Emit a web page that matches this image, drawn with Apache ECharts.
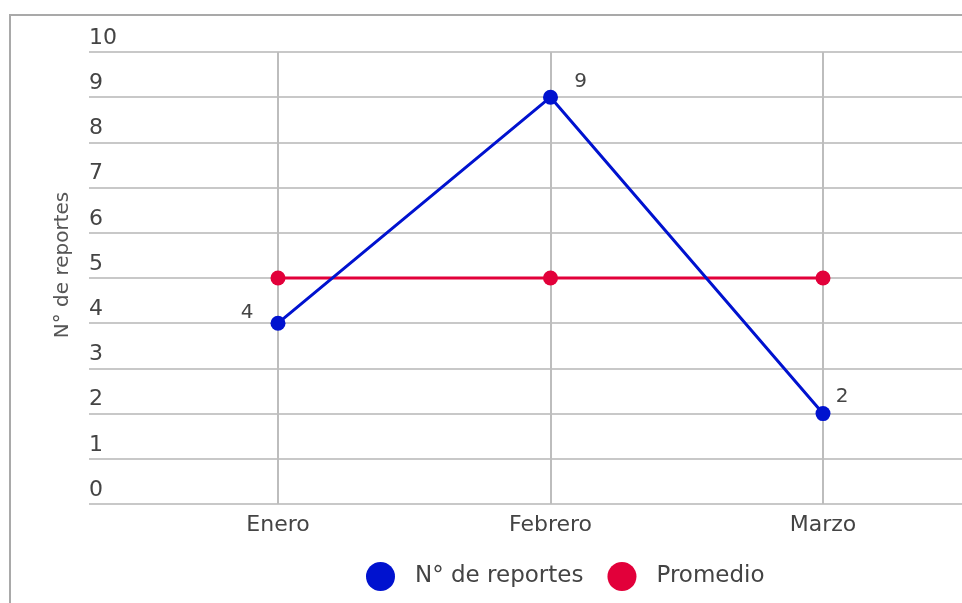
<!DOCTYPE html>
<html>
<head>
<meta charset="utf-8">
<script src="https://cdn.jsdelivr.net/npm/echarts@6/dist/echarts.min.js"></script>
<style>html,body{margin:0;padding:0;background:#fff}#c{width:962px;height:603px}</style>
</head>
<body>
<div id="c"></div>
<script>
var categories = ['Enero', 'Febrero', 'Marzo'];
var reportes = [4, 9, 2];
var promedio = [5, 5, 5];
var yTicks = [0, 10, 1]; // min, max, interval
var seriesNames = ['N° de reportes', 'Promedio'];
var labelOffsets = [[-31, -10], [30, -15], [19, -17]];

var FONT = 'DejaVu Sans';
var chart = echarts.init(document.getElementById('c'));
chart.setOption({
  animation: false,
  backgroundColor: '#fff',
  graphic: [{
    type: 'rect', silent: true, z: 100,
    shape: { x: 10, y: 15, width: 1000, height: 700 },
    style: { fill: 'none', stroke: '#a9a9a9', lineWidth: 2 }
  }],
  grid: [
    { left: 89, right: 0, top: 52, height: 452 },
    { left: 278, right: 139, top: 52, height: 452 }
  ],
  legend: {
    left: 361, top: 557,
    data: seriesNames,
    icon: 'circle',
    itemWidth: 31, itemHeight: 29,
    itemGap: 24,
    textStyle: { fontFamily: FONT, fontSize: 23, color: '#444', padding: [0, 0, 0, 14] }
  },
  xAxis: [
    { gridIndex: 0, type: 'value', show: false, min: 0, max: 1 },
    {
      gridIndex: 1, type: 'category', data: categories, boundaryGap: false,
      axisLine: { show: false }, axisTick: { show: false },
      splitLine: { show: true, lineStyle: { color: '#bdbdbd', width: 2 } },
      axisLabel: { fontFamily: FONT, fontSize: 22, color: '#444', margin: 10 }
    }
  ],
  yAxis: [
    {
      gridIndex: 0, type: 'value', min: yTicks[0], max: yTicks[1], interval: yTicks[2],
      axisLine: { show: false }, axisTick: { show: false },
      splitLine: { show: true, lineStyle: { color: '#c8c8c8', width: 2 } },
      axisLabel: { inside: true, margin: 0, align: 'left', verticalAlign: 'bottom',
        padding: [0, 0, 3, 0], fontFamily: FONT, fontSize: 22, color: '#444' },
      name: 'N° de reportes', nameLocation: 'middle', nameGap: 16,
      nameTextStyle: { fontFamily: FONT, fontSize: 20, color: '#555', padding: [0, 0, 0, 26] }
    },
    { gridIndex: 1, type: 'value', min: yTicks[0], max: yTicks[1], interval: yTicks[2], show: false,
      splitLine: { show: false } }
  ],
  series: [
    {
      name: seriesNames[1], type: 'line', xAxisIndex: 1, yAxisIndex: 1,
      data: promedio, symbol: 'circle', symbolSize: 15,
      itemStyle: { color: '#e2003a' },
      lineStyle: { color: '#e2003a', width: 3 }
    },
    {
      name: seriesNames[0], type: 'line', xAxisIndex: 1, yAxisIndex: 1,
      data: reportes.map(function (v, i) {
        return { value: v, label: { offset: labelOffsets[i] } };
      }),
      symbol: 'circle', symbolSize: 15,
      itemStyle: { color: '#0012cf' },
      lineStyle: { color: '#0012cf', width: 3 },
      label: { show: true, position: 'inside', fontFamily: FONT, fontSize: 20, color: '#444' }
    }
  ]
});
</script>
</body>
</html>
